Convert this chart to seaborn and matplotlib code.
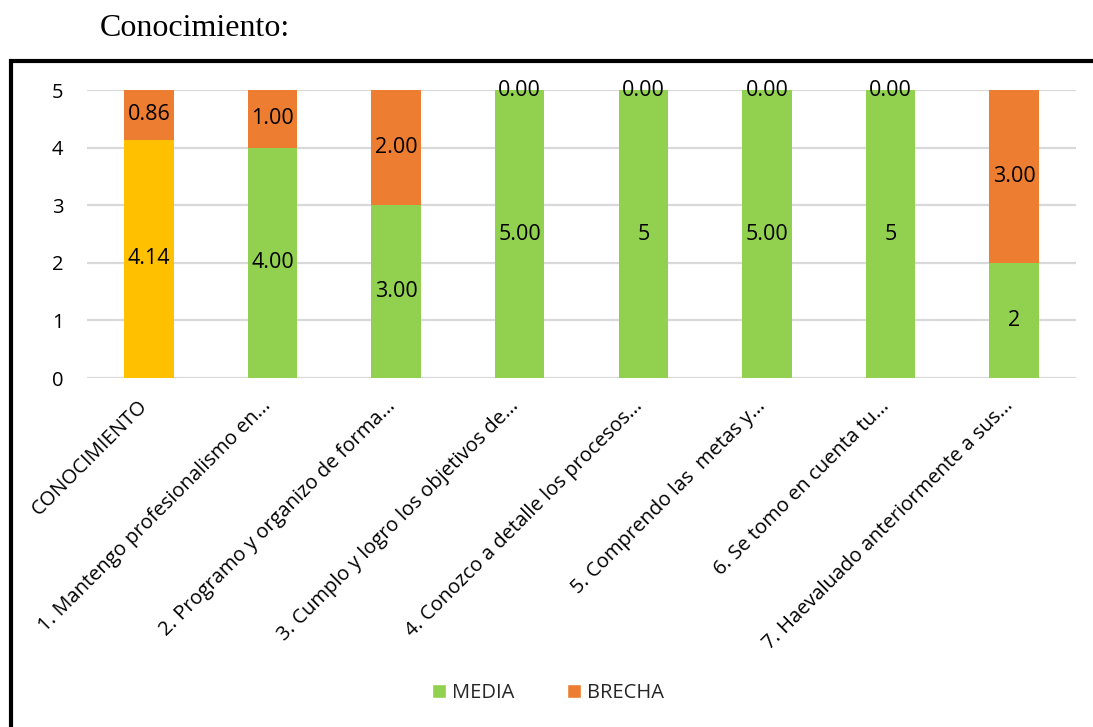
import matplotlib
matplotlib.use("Agg")
import matplotlib.pyplot as plt
from matplotlib.patches import Rectangle, Patch
from matplotlib.transforms import ScaledTranslation
import seaborn as sns
import pandas as pd

categories = [
    "CONOCIMIENTO",
    "1. Mantengo profesionalismo en...",
    "2. Programo y organizo de forma...",
    "3. Cumplo y logro los objetivos de...",
    "4. Conozco a detalle los procesos...",
    "5. Comprendo las  metas y...",
    "6. Se tomo en cuenta tu...",
    "7. Haevaluado anteriormente a sus...",
]
media = [4.14, 4.00, 3.00, 5.00, 5, 5.00, 5, 2]
brecha = [0.86, 1.00, 2.00, 0.00, 0.00, 0.00, 0.00, 3.00]
media_decimals = [2, 2, 2, 2, 0, 2, 0, 0]
brecha_decimals = [2, 2, 2, 2, 2, 2, 2, 2]

YELLOW = "#FFC000"
GREEN = "#92D050"
ORANGE = "#ED7D31"
GRID = "#D9D9D9"

sns.set_theme(style="white")
plt.rcParams["font.family"] = ["Open Sans", "DejaVu Sans"]

df = pd.DataFrame({"cat": categories, "media": media, "brecha": brecha})
df["total"] = df["media"] + df["brecha"]

fig = plt.figure(figsize=(10.93, 7.27), dpi=100)
ax = fig.add_axes([87 / 1093, 1 - 378 / 727, (1076 - 87) / 1093, (378 - 90) / 727])

# stacked bars: full height in orange, MEDIA drawn on top of it
sns.barplot(data=df, x="cat", y="total", color=ORANGE, width=0.4,
            saturation=1, ax=ax, zorder=2, linewidth=0)
media_palette = [YELLOW] + [GREEN] * (len(categories) - 1)
sns.barplot(data=df, x="cat", y="media", hue="cat", palette=media_palette,
            width=0.4, saturation=1, legend=False, ax=ax, zorder=3, linewidth=0)

ax.set_ylim(0, 5)
ax.set_xlim(-0.5, len(categories) - 0.5)
ax.set_yticks(range(6))
ax.yaxis.grid(True, color=GRID, linewidth=1.6, zorder=0)
ax.set_axisbelow(True)
for s in ax.spines.values():
    s.set_visible(False)
ax.set_xlabel("")
ax.set_ylabel("")
ax.tick_params(axis="y", labelsize=14.5, pad=17, length=0, colors="#000000")
ax.tick_params(axis="x", labelsize=14.5, length=0, pad=8, colors="#000000")
ax.set_xticks(range(len(categories)))
ax.set_xticklabels(categories, rotation=45, ha="right", rotation_mode="anchor")
shift = ScaledTranslation(-0.11, -0.07, fig.dpi_scale_trans)
for lbl in ax.get_xticklabels():
    lbl.set_transform(lbl.get_transform() + shift)

# value labels centred in each segment
for i, (m, b) in enumerate(zip(media, brecha)):
    ax.text(i, m / 2, f"{m:.{media_decimals[i]}f}", ha="center", va="center",
            fontsize=15.5, color="#000000", zorder=5)
    ax.text(i, m + b / 2, f"{b:.{brecha_decimals[i]}f}", ha="center", va="center",
            fontsize=15.5, color="#000000", zorder=5)

handles = [Patch(facecolor=GREEN, label="MEDIA"), Patch(facecolor=ORANGE, label="BRECHA")]
fig.legend(handles=handles, loc="center", bbox_to_anchor=(548 / 1093, 1 - 693 / 727),
           ncol=2, frameon=False, fontsize=14.5, handlelength=0.7, handleheight=0.7,
           handletextpad=0.3, columnspacing=2.6, borderpad=0)

# chart frame and caption
fig.patches.append(Rectangle((10.5 / 1093, -0.05), 1.2, (1 - 60.5 / 727) + 0.05,
                             transform=fig.transFigure, fill=False,
                             edgecolor="#000000", linewidth=3, clip_on=False))
fig.text(100 / 1093, 1 - 28.5 / 727, "Conocimiento:", family=["Liberation Serif"],
         fontsize=23, ha="left", va="center", color="#000000")

fig.savefig("out.png", dpi=100)
